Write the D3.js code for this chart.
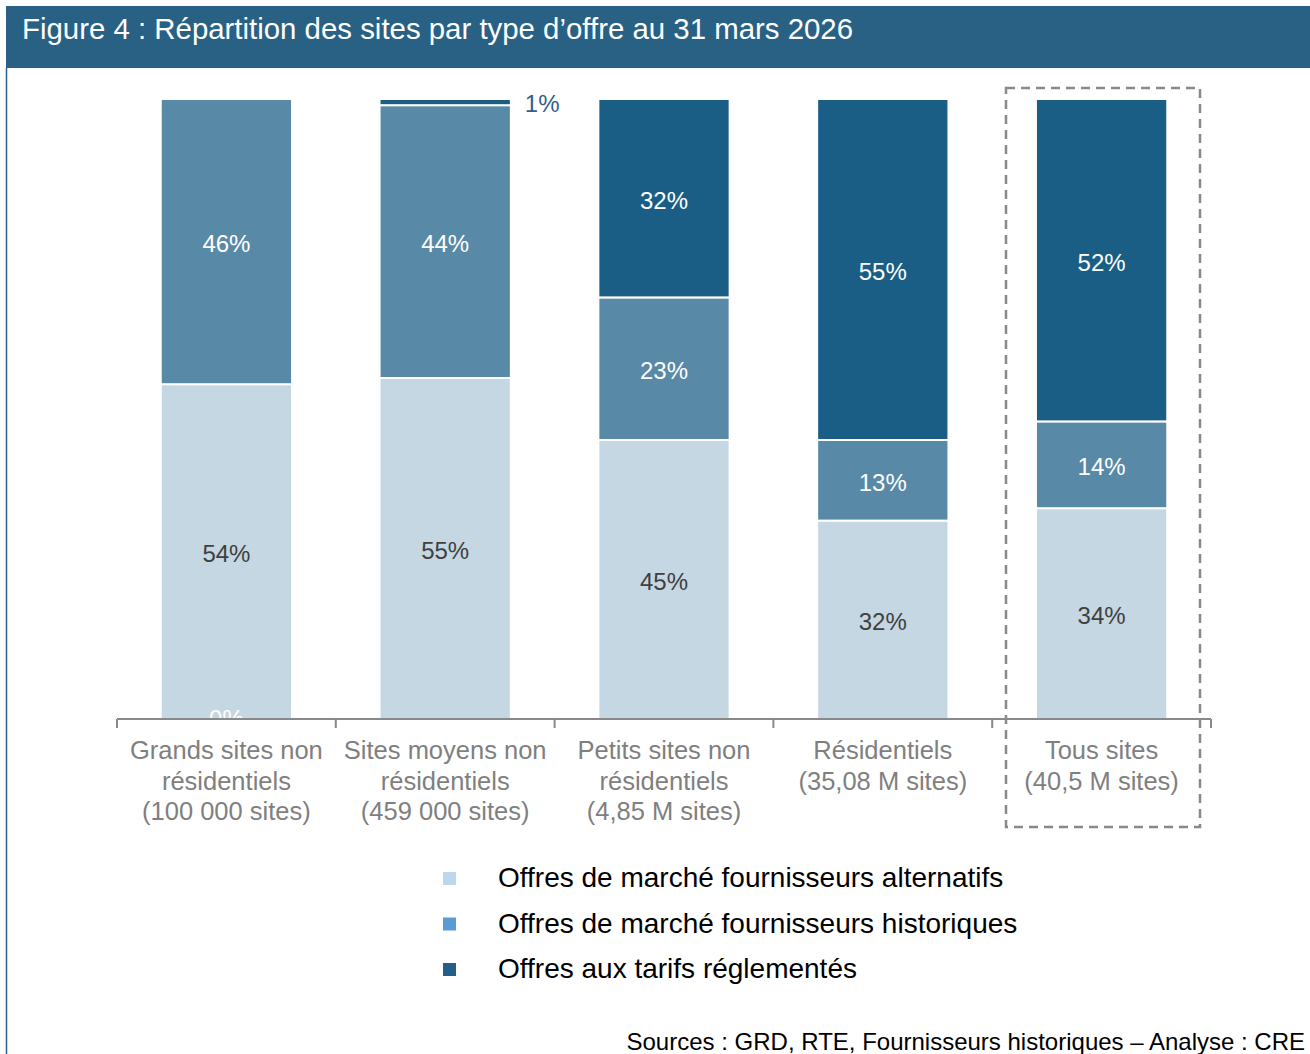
<!DOCTYPE html>
<html>
<head>
<meta charset="utf-8">
<script src="https://cdn.jsdelivr.net/npm/d3@7"></script>
<style>
  body { margin: 0; background: #fff; }
  svg { display: block; font-family: "Liberation Sans", Arial, sans-serif; }
</style>
</head>
<body>
<script>
var w = 1310, h = 1054;

var categories = [
  ["Grands sites non", "résidentiels", "(100 000 sites)"],
  ["Sites moyens non", "résidentiels", "(459 000 sites)"],
  ["Petits sites non", "résidentiels", "(4,85 M sites)"],
  ["Résidentiels", "(35,08 M sites)"],
  ["Tous sites", "(40,5 M sites)"]
];
var alternatifs = [54, 55, 45, 32, 34];
var historiques = [46, 44, 23, 13, 14];
var reglementes = [0, 1, 32, 55, 52];

var seriesNames = [
  "Offres de marché fournisseurs alternatifs",
  "Offres de marché fournisseurs historiques",
  "Offres aux tarifs réglementés"
];
var barColors = ["#c5d7e2", "#5889a7", "#1a5e85"];
var legendColors = ["#bdd7ee", "#5b9bd5", "#255e88"];
var labelColors = ["#404040", "#ffffff", "#ffffff"];

var rows = categories.map(function(c, i) {
  return { i: i, a: alternatifs[i], b: historiques[i], c: reglementes[i] };
});
var keys = ["a", "b", "c"];

var svg = d3.select("body").append("svg").attr("width", w).attr("height", h);

// header band
svg.append("rect").attr("x", 6).attr("y", 6).attr("width", w - 6).attr("height", 62).attr("fill", "#296185");
svg.append("line").attr("x1", 6.5).attr("x2", 6.5).attr("y1", 68).attr("y2", h)
  .attr("stroke", "#296185").attr("stroke-width", 1.5);
svg.append("text").attr("x", 22).attr("y", 39).attr("fill", "#fff")
  .attr("font-size", 29.4).text("Figure 4 : Répartition des sites par type d’offre au 31 mars 2026");

var x = d3.scaleBand().domain(rows.map(function(d) { return d.i; }))
  .range([117, 1211]).paddingInner(0.4).paddingOuter(0.2);
var y = d3.scaleLinear().domain([0, 100]).range([719, 99]);

var stack = d3.stack().keys(keys)(rows);

var layer = svg.append("g").selectAll("g").data(stack).enter().append("g")
  .attr("fill", function(d, k) { return barColors[k]; });

layer.selectAll("rect").data(function(d) { return d; }).enter().append("rect")
  .attr("x", function(d) { return x(d.data.i); })
  .attr("width", x.bandwidth())
  .attr("y", function(d) { return y(d[1]); })
  .attr("height", function(d) { return y(d[0]) - y(d[1]); })
  .attr("stroke", "#fff").attr("stroke-width", 2);

// value labels (zero values sit on the axis, tiny ones go beside the bar)
stack.forEach(function(s, k) {
  s.forEach(function(d) {
    var v = d[1] - d[0];
    var small = v > 0 && v < 3;
    var cy = v === 0 ? y(0) : small ? y(d[1]) + 5 : (y(d[0]) + y(d[1])) / 2 + 2;
    svg.append("text")
      .attr("x", small ? x(d.data.i) + x.bandwidth() + 14 : x(d.data.i) + x.bandwidth() / 2)
      .attr("y", cy)
      .attr("dy", "0.35em")
      .attr("text-anchor", small ? "start" : "middle")
      .attr("font-size", 24)
      .attr("fill", small ? "#2f5f8e" : labelColors[k])
      .text(d3.format(".0f")(v) + "%");
  });
});

// axis
var axis = svg.append("g").attr("transform", "translate(0,719)")
  .call(d3.axisBottom(x).tickSize(0).tickFormat(""));
axis.select(".domain").attr("stroke", "#898989").attr("stroke-width", 2).attr("d", "M117,0H1211");

var bounds = x.domain().map(function(i) { return x(i) - x.step() * x.paddingInner() / 2; });
bounds.push(x.range()[1]);
svg.append("g").selectAll("line").data(bounds).enter().append("line")
  .attr("x1", function(d) { return d; }).attr("x2", function(d) { return d; })
  .attr("y1", 719).attr("y2", 728)
  .attr("stroke", "#898989").attr("stroke-width", 2);

var cat = svg.append("g").selectAll("text").data(categories).enter().append("text")
  .attr("text-anchor", "middle").attr("font-size", 25.5).attr("fill", "#7f7f7f")
  .attr("transform", function(d, i) { return "translate(" + (x(i) + x.bandwidth() / 2) + ",759)"; });
cat.selectAll("tspan").data(function(d) { return d; }).enter().append("tspan")
  .attr("x", 0).attr("y", function(d, j) { return j * 30.5; }).text(function(d) { return d; });

// dashed box around total
svg.append("rect").attr("x", 1006).attr("y", 88).attr("width", 194).attr("height", 739)
  .attr("fill", "none").attr("stroke", "#898989").attr("stroke-width", 2.5)
  .attr("stroke-dasharray", "9,6");

// legend
var leg = svg.append("g").selectAll("g").data(seriesNames).enter().append("g")
  .attr("transform", function(d, k) { return "translate(443," + (872 + k * 45.5) + ")"; });
leg.append("rect").attr("width", 13).attr("height", 13)
  .attr("fill", function(d, k) { return legendColors[k]; });
leg.append("text").attr("x", 55).attr("y", 15).attr("font-size", 28).attr("fill", "#000")
  .text(function(d) { return d; });

svg.append("text").attr("x", 1305).attr("y", 1050).attr("text-anchor", "end")
  .attr("font-size", 24).attr("fill", "#000")
  .text("Sources : GRD, RTE, Fournisseurs historiques – Analyse : CRE");
</script>
</body>
</html>
